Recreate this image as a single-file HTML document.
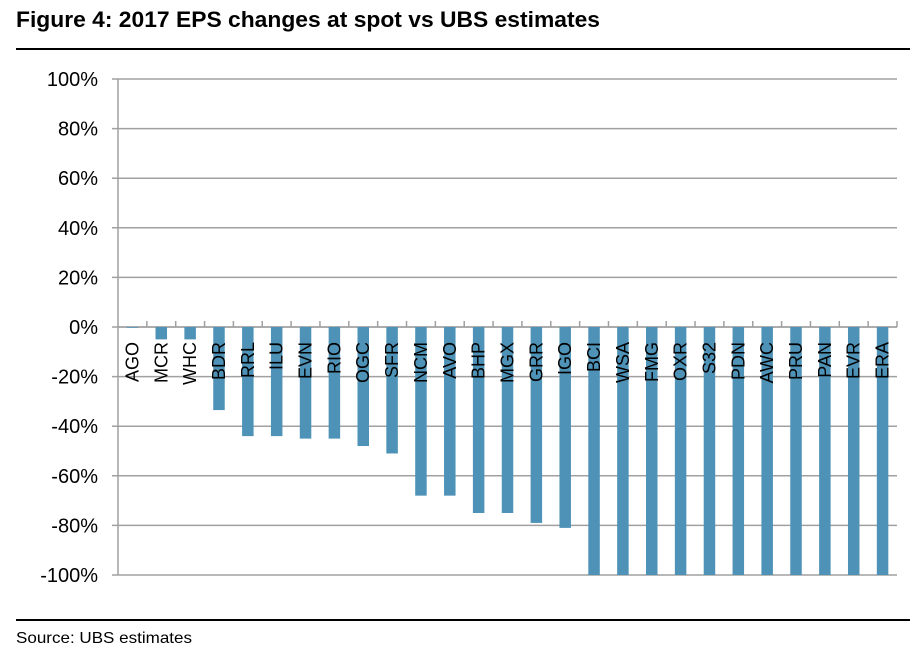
<!DOCTYPE html>
<html><head><meta charset="utf-8"><style>
body{margin:0;background:#fff;width:924px;height:666px;overflow:hidden;font-family:"Liberation Sans",sans-serif}
</style></head><body>
<svg id="chart" width="924" height="666" xmlns="http://www.w3.org/2000/svg">
<text x="16" y="27" font-family="Liberation Sans, sans-serif" font-weight="bold" font-size="22" textLength="584" lengthAdjust="spacingAndGlyphs" fill="#000">Figure 4: 2017 EPS changes at spot vs UBS estimates</text>
<rect x="16" y="48" width="894" height="2" fill="#000"/>
<rect x="16" y="619" width="894" height="2" fill="#000"/>
<text x="16" y="643" font-family="Liberation Sans, sans-serif" font-size="16" textLength="176" lengthAdjust="spacingAndGlyphs" fill="#000">Source: UBS estimates</text>
<g id="plot"></g>
</svg>
<script>
const categories=["AGO","MCR","WHC","BDR","RRL","ILU","EVN","RIO","OGC","SFR","NCM","AVO","BHP","MGX","GRR","IGO","BCI","WSA","FMG","OXR","S32","PDN","AWC","PRU","PAN","EVR","ERA"];
const values=[-0.3,-5,-5,-33.5,-44,-44,-45,-45,-48,-51,-68,-68,-75,-75,-79,-81,-100,-100,-100,-100,-100,-100,-100,-100,-100,-100,-100];
const yTicks=[100,80,60,40,20,0,-20,-40,-60,-80,-100];
const yTickLabels=["100%","80%","60%","40%","20%","0%","-20%","-40%","-60%","-80%","-100%"];

const NS="http://www.w3.org/2000/svg";
const g=document.getElementById('plot');
const x0=118,x1=897,yTop=79,yBot=575,vMax=100,vMin=-100;
const y=v=>yTop+(vMax-v)/(vMax-vMin)*(yBot-yTop);
const band=(x1-x0)/categories.length;
const xc=i=>x0+band*(i+0.5);
function mk(t,a){const e=document.createElementNS(NS,t);for(const k in a)e.setAttribute(k,a[k]);g.appendChild(e);return e;}

yTicks.forEach((v,i)=>{
  const l=mk('line',{x1:x0-6,x2:x1,y1:y(v),y2:y(v),stroke:'#a0a0a0','stroke-width':1.5});
  
  
  const t=mk('text',{x:98,y:y(v)+7,'text-anchor':'end','font-size':20,fill:'#000','font-family':'Liberation Sans, sans-serif'});
  t.textContent=yTickLabels[i];
  
  
});
const ax=mk('line',{x1:x0,x2:x0,y1:yTop,y2:yBot,stroke:'#a0a0a0','stroke-width':1.5});


const zl=mk('line',{x1:x0,x2:x1,y1:y(0),y2:y(0),stroke:'#a0a0a0','stroke-width':1.5});


for(let i=1;i<=categories.length;i++){
  const tk=mk('line',{x1:x0+band*i,x2:x0+band*i,y1:y(0),y2:y(0)-6,stroke:'#a0a0a0','stroke-width':1.5});
  
  
}
values.forEach((v,i)=>{
  const bw=11.5;
  const r=mk('rect',{x:xc(i)-bw/2,y:Math.min(y(0),y(v)),width:bw,height:Math.abs(y(v)-y(0)),fill:'#4e92b7'});
  
  
});
categories.forEach((c,i)=>{
  const tx=xc(i)+6, ty=y(0)+15;
  const t=mk('text',{x:tx,y:ty,transform:`rotate(-90 ${tx} ${ty})`,'text-anchor':'end','font-size':18,fill:'#000','font-family':'Liberation Sans, sans-serif'});
  t.textContent=c;
  
  
});
</script>
</body></html>
